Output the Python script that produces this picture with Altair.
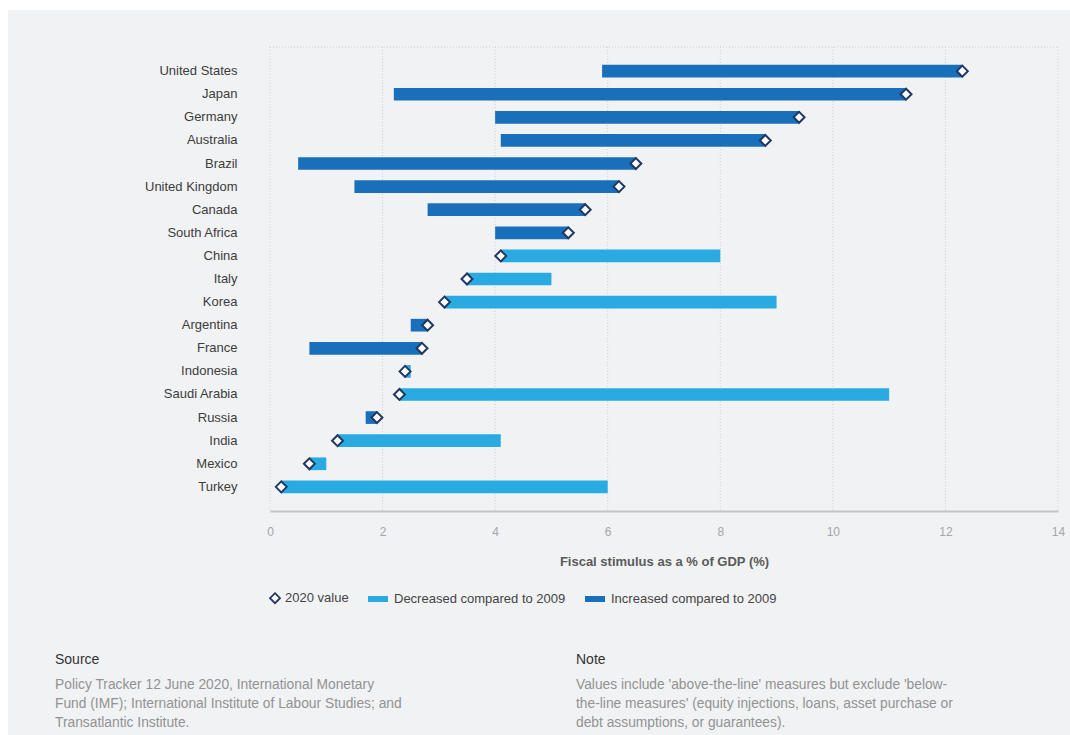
import altair as alt
import pandas as pd

countries = ["United States", "Japan", "Germany", "Australia", "Brazil", "United Kingdom",
             "Canada", "South Africa", "China", "Italy", "Korea", "Argentina", "France",
             "Indonesia", "Saudi Arabia", "Russia", "India", "Mexico", "Turkey"]
value_2020 = [12.3, 11.3, 9.4, 8.8, 6.5, 6.2, 5.6, 5.3, 4.1, 3.5, 3.1, 2.8, 2.7,
              2.4, 2.3, 1.9, 1.2, 0.7, 0.2]
value_2009 = [5.9, 2.2, 4.0, 4.1, 0.5, 1.5, 2.8, 4.0, 8.0, 5.0, 9.0, 2.5, 0.7,
              2.5, 11.0, 1.7, 4.1, 1.0, 6.0]
x_ticks = [0, 2, 4, 6, 8, 10, 12, 14]
legend_labels = ["2020 value", "Decreased compared to 2009", "Increased compared to 2009"]
axis_title = "Fiscal stimulus as a % of GDP (%)"
source_head = "Source"
source_lines = ["Policy Tracker 12 June 2020, International Monetary",
                "Fund (IMF);  International Institute of Labour Studies; and",
                "Transatlantic Institute."]
note_head = "Note"
note_lines = ["Values include 'above-the-line' measures but exclude 'below-",
              "the-line measures' (equity injections, loans, asset purchase or",
              "debt assumptions, or  guarantees)."]

DARK = "#1a6fba"
LIGHT = "#29abe2"
NAVY = "#1f3864"
BG = "#f1f2f4"
GRID = "#cdd0d4"
FONT = "Liberation Sans"

df = pd.DataFrame({"country": countries, "v2020": value_2020, "v2009": value_2009})
df["lo"] = df[["v2020", "v2009"]].min(axis=1)
df["hi"] = df[["v2020", "v2009"]].max(axis=1)
df["kind"] = [legend_labels[2] if a > b else legend_labels[1] for a, b in zip(value_2020, value_2009)]

W, H = 788, 464

x_scale = alt.Scale(domain=[0, 14], nice=False)

y_enc = alt.Y("country:N", sort=countries, title=None,
              scale=alt.Scale(paddingInner=0.45, paddingOuter=0.77),
              axis=alt.Axis(domain=False, ticks=False, grid=False, labelPadding=33, zindex=1,
                            labelFontSize=13, labelColor="#3c3c3c", labelFont=FONT))

is_val = "datum.value === '2020 value'"
legend = alt.Legend(
    title=None, orient="none", legendX=-12, legendY=540, direction="horizontal",
    symbolSize=400, labelFontSize=13, labelColor="#444", labelFont=FONT, labelLimit=400,
    columnPadding=15, labelOffset=5, symbolOpacity=1,
    symbolType={"expr": f"{is_val} ? 'M0.6,-0.5L1.1,0L0.6,0.5L0.1,0Z' : 'M-1,-0.3H1V0.3H-1Z'"},
    symbolStrokeColor={"expr": f"{is_val} ? '{NAVY}' : 'transparent'"},
    symbolStrokeWidth=1.8,
)

card = alt.Chart(pd.DataFrame({"a": [0]})).mark_rect(color=BG).encode(
    x=alt.value(-262), x2=alt.value(W + 12), y=alt.value(-37), y2=alt.value(H + 226))

grid = alt.Chart(pd.DataFrame({"t": x_ticks})).mark_rule(
    color=GRID, strokeDash=[1, 2], strokeWidth=1).encode(
    x=alt.X("t:Q", scale=x_scale), y=alt.value(0), y2=alt.value(H))

top_border = alt.Chart(pd.DataFrame({"a": [x_ticks[0]], "b": [x_ticks[-1]]})).mark_rule(
    color=GRID, strokeDash=[1, 2], strokeWidth=1).encode(
    x=alt.X("a:Q", scale=x_scale), x2="b:Q", y=alt.value(0))

bars = alt.Chart(df).mark_bar(cornerRadius=0).encode(
    y=y_enc,
    x=alt.X("lo:Q", scale=x_scale, title=axis_title,
            axis=alt.Axis(values=x_ticks, format="d", labelFlush=False, grid=False,
                          domainColor="#c4c4c4", domainWidth=2, ticks=False, zindex=1,
                          labelPadding=15, labelFontSize=12, labelColor="#a6a6a6",
                          labelFont=FONT, titleFont=FONT, titleFontSize=13,
                          titleFontWeight="bold", titleColor="#5a5a5a", titlePadding=18)),
    x2="hi:Q",
    color=alt.Color("kind:N", scale=alt.Scale(domain=legend_labels, range=["white", LIGHT, DARK]),
                    legend=legend),
)

points = alt.Chart(df).mark_point(shape="diamond", filled=True, fill="white", stroke=NAVY,
                                   strokeWidth=2, size=120, opacity=1).encode(
    y=alt.Y("country:N", sort=countries),
    x=alt.X("v2020:Q", scale=x_scale),
)


def text_layer(txt, x, y, size, color):
    return alt.Chart(pd.DataFrame({"t": [txt]})).mark_text(
        align="left", baseline="middle", font=FONT, fontSize=size, color=color,
        lineBreak="\n", lineHeight=19).encode(text="t:N", x=alt.value(x), y=alt.value(y))


texts = [
    text_layer(source_head, -215, 613, 14, "#333333"),
    text_layer("\n".join(source_lines), -215, 638, 13.8, "#929292"),
    text_layer(note_head, 306, 613, 14, "#333333"),
    text_layer("\n".join(note_lines), 306, 638, 13.8, "#929292"),
]

chart = alt.layer(card, grid, top_border, bars, points, *texts).properties(
    width=W, height=H,
    autosize=alt.AutoSizeParams(type="none"),
    padding={"left": 270, "top": 47, "right": 12, "bottom": 224},
    background="white",
).configure_view(stroke=None).configure_axis(labelFont=FONT, titleFont=FONT)

chart.save("out.html", embed_options={"renderer": "svg", "actions": False})
